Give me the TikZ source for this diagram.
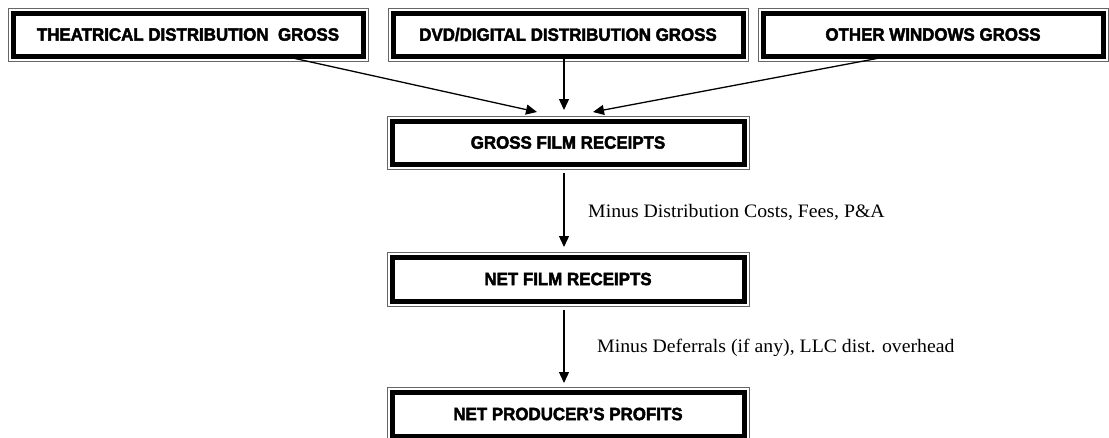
\documentclass[tikz,border=0pt]{standalone}
\usepackage{fontspec}
\setmainfont{Liberation Serif}
\newfontfamily\hdrfont{Liberation Sans}[UprightFont=* Bold, FakeBold=2.5, FakeStretch=0.95]
\newfontfamily\lblfont{Liberation Serif}[FakeStretch=1.04]
\usetikzlibrary{arrows.meta}
\newcommand\flowbox[6]{%
  \draw[outerline] (#2,#3) rectangle (#4,#5);
  \node[boxnode, minimum width={(#4-#2-10)*1pt}, minimum height={(#5-#3-10)*1pt}] (#1) at ({(#2+#4)/2},{(#3+#5)/2}) {#6};
}
\begin{document}
\begin{tikzpicture}[x=1pt,y=-1pt,
  outerline/.style={draw=black!60, line width=0.9pt},
  boxnode/.style={draw=black, line width=5pt, fill=white, inner sep=0pt, font=\hdrfont\fontsize{17.8}{20}\selectfont},
  flow/.style={draw=black, line width=1.3pt, -{Triangle[length=11pt,width=10pt]}},
  lbl/.style={font=\lblfont\fontsize{19}{22}\selectfont, anchor=base west, inner sep=0pt}]
\useasboundingbox (0,0) rectangle (1109,437);
\flowbox{theat}{8}{8}{368}{61}{THEATRICAL DISTRIBUTION\ \ GROSS}
\flowbox{dvd}{388}{8}{748}{61}{DVD/DIGITAL DISTRIBUTION GROSS}
\flowbox{other}{758}{8}{1108}{61}{OTHER WINDOWS GROSS}
\flowbox{gross}{387}{116}{749}{169}{GROSS FILM RECEIPTS}
\flowbox{net}{387}{252}{749}{306}{NET FILM RECEIPTS}
\flowbox{prod}{387}{387}{749}{441}{NET PRODUCER’S PROFITS}
\draw[flow] ([xshift=107pt]theat.south) -- ([xshift=-31pt,yshift=6.5pt]gross.north);
\draw[flow] ([xshift=-4pt]dvd.south) -- ([xshift=-4pt,yshift=8.5pt]gross.north);
\draw[flow] ([xshift=-56pt]other.south) -- ([xshift=25pt,yshift=6.5pt]gross.north);
\draw[flow] ([xshift=-4pt,yshift=-6.5pt]gross.south) -- ([xshift=-4pt,yshift=7.5pt]net.north);
\draw[flow] ([xshift=-4pt,yshift=-6.5pt]net.south) -- ([xshift=-4pt,yshift=6.5pt]prod.north);
\node[lbl] (l1) at (588,217) {Minus Distribution Costs, Fees, P\&A};
\node[lbl] (l2) at (597,352) {Minus Deferrals (if any), LLC dist. overhead};
\end{tikzpicture}
\end{document}
